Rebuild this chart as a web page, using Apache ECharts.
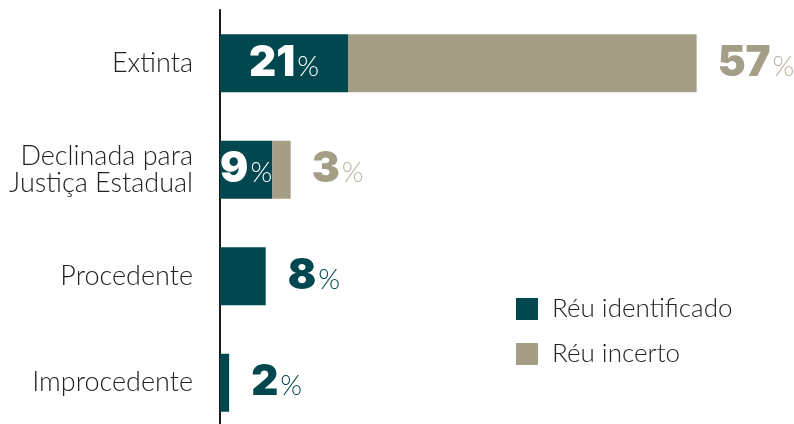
<!DOCTYPE html>
<html>
<head>
    <meta charset="utf-8"/>
    <title>Réu identificado x Réu incerto</title>
    <script src="https://cdn.jsdelivr.net/npm/echarts@6/dist/echarts.min.js"></script>
    <style>
        html, body { margin: 0; padding: 0; background: #fff; }
    </style>
</head>
<body>
<div id="main" style="width: 794px; height: 424px;"></div>
<script type="text/javascript">

    // dados
    var categorias = ['Extinta', 'Declinada para\nJustiça Estadual', 'Procedente', 'Improcedente'];
    var reuIdentificado = [21, 8.6, 7.5, 1.5];
    var reuIncerto = [57.2, 3, null, null];
    var rotIdentificado = ['21', '9', '8', '2'];
    var rotIncerto = ['57', '3', '', ''];
    var rotuloDentro = [true, true, false, false];

    var corEscura = '#01474f';
    var corBege = '#a59e86';
    var fonteTexto = 'Lato';
    var fonteNumero = 'Inter';

    function rich(cor, corPct) {
        return {
            n: { fontFamily: fonteNumero, fontWeight: 900, fontSize: 42, color: cor },
            p: { fontFamily: fonteTexto, fontWeight: 300, fontSize: 28, color: corPct, padding: [7, 0, 0, 2] }
        };
    }

    var dadosIdent = reuIdentificado.map(function (v, i) {
        var dentro = rotuloDentro[i];
        return {
            value: v,
            label: {
                show: true,
                position: dentro ? 'inside' : 'right',
                distance: 22,
                formatter: '{n|' + rotIdentificado[i] + '}{p|%}',
                rich: dentro ? rich('#fff', '#fff') : rich(corEscura, corEscura)
            }
        };
    });

    var dadosIncerto = reuIncerto.map(function (v, i) {
        return {
            value: v,
            label: {
                show: v != null,
                position: 'right',
                distance: 21,
                formatter: '{n|' + rotIncerto[i] + '}{p|%}',
                rich: rich(corBege, '#b9b3a0')
            }
        };
    });

    var myChart = echarts.init(document.getElementById('main'));

    myChart.setOption({
        backgroundColor: '#fff',
        animation: false,
        grid: {
            left: 220,
            top: 10,
            width: 609.5,
            height: 426,
            outerBoundsMode: 'none'
        },
        legend: {
            orient: 'vertical',
            left: 516,
            top: 296,
            padding: 0,
            icon: 'rect',
            itemWidth: 22,
            itemHeight: 22,
            itemGap: 19,
            textStyle: {
                fontFamily: fonteTexto,
                fontWeight: 300,
                fontSize: 26,
                color: '#222',
                padding: [0, 0, 0, 9]
            },
            data: ['Réu identificado', 'Réu incerto']
        },
        xAxis: {
            type: 'value',
            min: 0,
            max: 100,
            show: false
        },
        yAxis: {
            type: 'category',
            inverse: true,
            data: categorias,
            axisLine: { lineStyle: { color: '#1a1a1a', width: 2 } },
            axisTick: { show: false },
            axisLabel: {
                margin: 27,
                fontFamily: fonteTexto,
                fontWeight: 300,
                fontSize: 27,
                lineHeight: 27,
                color: '#222'
            }
        },
        series: [
            {
                name: 'Réu identificado',
                type: 'bar',
                stack: 'total',
                barWidth: 58,
                itemStyle: { color: corEscura },
                data: dadosIdent
            },
            {
                name: 'Réu incerto',
                type: 'bar',
                stack: 'total',
                barWidth: 58,
                itemStyle: { color: corBege },
                data: dadosIncerto
            }
        ]
    });
</script>
</body>
</html>
